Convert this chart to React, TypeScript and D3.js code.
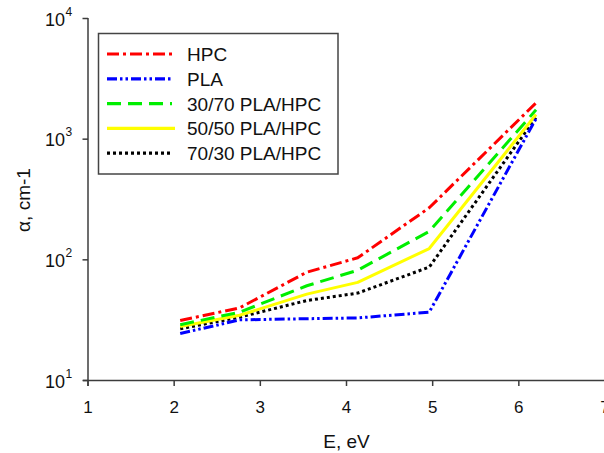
import React from "react";
import * as d3 from "d3";

const energies = [2.07, 2.76, 3.54, 4.13, 4.96, 6.2];
const hpc = [31.4, 40, 79, 104, 270, 2000];
const pla = [24.5, 31.8, 32.5, 33, 36.8, 1480];
const pla30hpc70 = [29, 36.8, 61, 82, 172, 1750];
const pla50hpc50 = [28, 34.7, 52, 65, 124, 1600];
const pla70hpc30 = [26.8, 33.5, 46, 53, 87, 1520];

const seriesNames = ["HPC", "PLA", "30/70 PLA/HPC", "50/50 PLA/HPC", "70/30 PLA/HPC"];
const xTicks = [1, 2, 3, 4, 5, 6, 7];
const yTicks = [10, 100, 1000, 10000];

const seriesData = [hpc, pla, pla30hpc70, pla50hpc50, pla70hpc30];
const styles = [
  { color: "#ff0000", dash: "12,4,3,4" },
  { color: "#0000ff", dash: "10,3,2.5,3,2.5,3" },
  { color: "#00ee00", dash: "14,7" },
  { color: "#ffff00", dash: "none" },
  { color: "#000000", dash: "3,3" },
];

const FONT = "'Liberation Sans', Arial, Helvetica, sans-serif";

export default function App() {
  const W = 604, H = 453;
  const x = d3.scaleLinear().domain([1, 7]).range([88, 605]);
  const y = d3.scaleLog().domain([10, 10000]).range([380.5, 18.5]);
  const line = d3
    .line<number>()
    .x((_, i) => x(energies[i]))
    .y((d) => y(d));
  const axisColor = "#3c3c3c";

  const legX0 = 107, legX1 = 172, legTextX = 187;
  const legRowY = (i: number) => 54 + i * 24.8;

  return (
    <div style={{ position: "fixed", left: 0, top: 0, width: W, height: H, background: "#fff" }}>
      <svg width={W} height={H} style={{ display: "block" }} fontFamily={FONT}>
        <rect width={W} height={H} fill="#fff" />
        {/* series (drawn in reverse so HPC is on top) */}
        {seriesData
          .map((vals, i) => ({ vals, i }))
          .reverse()
          .map(({ vals, i }) => (
            <path
              key={i}
              d={line(vals) || ""}
              fill="none"
              stroke={styles[i].color}
              strokeWidth={3}
              strokeDasharray={styles[i].dash}
              strokeLinejoin="round"
            />
          ))}
        {/* axes */}
        <line x1={88} x2={88} y1={18} y2={386} stroke={axisColor} strokeWidth={1.5} />
        <line x1={83} x2={W} y1={380.5} y2={380.5} stroke={axisColor} strokeWidth={1.5} />
        {xTicks.map((t) => (
          <g key={"x" + t}>
            <line x1={x(t)} x2={x(t)} y1={380.5} y2={386} stroke={axisColor} strokeWidth={1.5} />
            <text x={x(t)} y={413} fontSize={17} textAnchor="middle" fill="#111">
              {t}
            </text>
          </g>
        ))}
        {yTicks.map((t) => (
          <g key={"y" + t}>
            <line x1={82.5} x2={88} y1={y(t)} y2={y(t)} stroke={axisColor} strokeWidth={1.5} />
            <text x={65} y={y(t) + 7} fontSize={18} textAnchor="end" fill="#111">
              10
            </text>
            <text x={65.5} y={y(t) - 3} fontSize={12} textAnchor="start" fill="#111">
              {Math.round(Math.log10(t))}
            </text>
          </g>
        ))}
        <text x={x(4)} y={448} fontSize={19} textAnchor="middle" fill="#111">
          E, eV
        </text>
        <text
          transform={`translate(30,200) rotate(-90)`}
          fontSize={19}
          textAnchor="middle"
          fill="#111"
        >
          α, cm-1
        </text>
        {/* legend */}
        <rect x={98.5} y={33.5} width={239.5} height={140.5} fill="#fff" stroke="#444" strokeWidth={1.5} />
        {seriesNames.map((name, i) => (
          <g key={name}>
            <line
              x1={legX0}
              x2={i === 0 || i === 3 ? legX1 + 3 : legX1}
              y1={legRowY(i)}
              y2={legRowY(i)}
              stroke={styles[i].color}
              strokeWidth={3.2}
              strokeDasharray={styles[i].dash}
            />
            <text x={legTextX} y={legRowY(i) + 7} fontSize={19} fill="#111">
              {name}
            </text>
          </g>
        ))}
      </svg>
    </div>
  );
}
